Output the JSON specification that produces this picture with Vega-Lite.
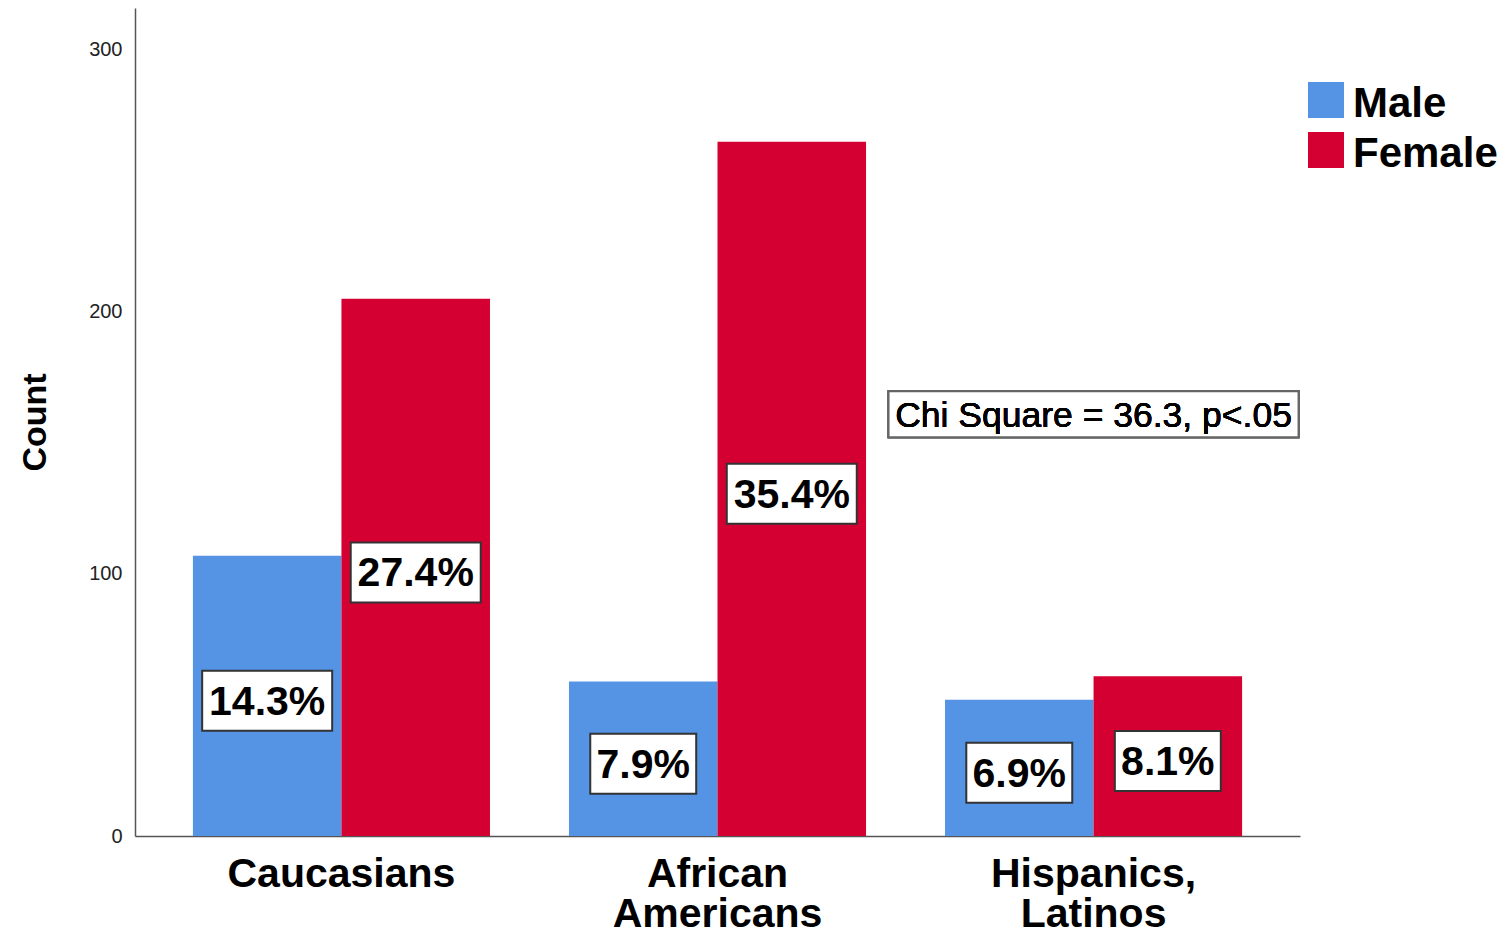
{
  "$schema": "https://vega.github.io/schema/vega-lite/v6.json",
  "width": 1165,
  "height": 828,
  "autosize": {"type": "none"},
  "padding": {"left": 135, "top": 8, "right": 203, "bottom": 99},
  "background": "white",
  "title": {
    "text": "Ethnicity Distribution by Gender",
    "font": "Liberation Sans",
    "fontSize": 41,
    "fontWeight": "bold",
    "color": "black",
    "anchor": "middle",
    "baseline": "alphabetic",
    "offset": 2,
    "dx": 58
  },
  "config": {
    "view": {"stroke": null},
    "font": "Liberation Sans"
  },
  "data": {
    "values": [
      {"ethnicity": "Caucasians", "gender": "Male", "count": 107, "pct": "14.3%"},
      {"ethnicity": "Caucasians", "gender": "Female", "count": 205, "pct": "27.4%"},
      {"ethnicity": "African Americans", "gender": "Male", "count": 59, "pct": "7.9%"},
      {"ethnicity": "African Americans", "gender": "Female", "count": 265, "pct": "35.4%"},
      {"ethnicity": "Hispanics, Latinos", "gender": "Male", "count": 52, "pct": "6.9%"},
      {"ethnicity": "Hispanics, Latinos", "gender": "Female", "count": 61, "pct": "8.1%"}
    ]
  },
  "encoding": {
    "x": {
      "field": "ethnicity",
      "type": "nominal",
      "sort": ["Caucasians", "African Americans", "Hispanics, Latinos"],
      "scale": {"paddingInner": 0.21, "paddingOuter": 0.154},
      "axis": {
        "title": null,
        "labelAngle": 0,
        "labelFont": "Liberation Sans",
        "labelFontSize": 41,
        "labelFontWeight": "bold",
        "labelColor": "black",
        "labelLineHeight": 40,
        "labelPadding": 18,
        "labelLimit": 0,
        "labelOverlap": false,
        "labelExpr": "datum.value == 'African Americans' ? ['African', 'Americans'] : datum.value == 'Hispanics, Latinos' ? ['Hispanics,', 'Latinos'] : datum.value",
        "ticks": false,
        "domainColor": "#555555",
        "domainWidth": 1.5,
        "grid": false
      }
    },
    "xOffset": {
      "field": "gender",
      "type": "nominal",
      "sort": ["Male", "Female"]
    }
  },
  "layer": [
    {
      "mark": {"type": "bar"},
      "encoding": {
        "y": {
          "field": "count",
          "type": "quantitative",
          "scale": {"domain": [0, 316], "nice": false},
          "axis": {
            "title": "Count",
            "titleFont": "Liberation Sans",
            "titleFontSize": 34,
            "titleFontWeight": "bold",
            "titleColor": "black",
            "titlePadding": 36,
            "values": [0, 100, 200, 300],
            "labelFont": "Liberation Sans",
            "labelFontSize": 20,
            "labelColor": "#222222",
            "labelPadding": 13,
            "ticks": false,
            "grid": false,
            "domainColor": "#555555",
            "domainWidth": 1.5
          }
        },
        "color": {
          "field": "gender",
          "type": "nominal",
          "scale": {"domain": ["Male", "Female"], "range": ["#5594e4", "#d50032"]},
          "legend": {
            "title": null,
            "orient": "none",
            "legendX": 1170,
            "legendY": 71,
            "padding": 0,
            "symbolType": "square",
            "symbolSize": 1296,
            "symbolStrokeWidth": 0,
            "symbolOpacity": 1,
            "labelFont": "Liberation Sans",
            "labelFontSize": 42,
            "labelFontWeight": "bold",
            "labelColor": "black",
            "labelOffset": 6,
            "rowPadding": 4,
            "encode": {"labels": {"update": {"dy": {"value": 4}}}}
          }
        }
      }
    },
    {
      "mark": {"type": "point", "filled": true, "fill": "white", "stroke": "#333333", "strokeWidth": 2, "opacity": 1, "size": 16900},
      "encoding": {
        "y": {
          "field": "count",
          "type": "quantitative",
          "scale": {"domain": [3.8, 635.8], "nice": false, "zero": false},
          "axis": null
        },
        "shape": {
          "field": "pct",
          "type": "nominal",
          "scale": {
            "domain": ["14.3%", "27.4%", "35.4%", "7.9%", "6.9%", "8.1%"],
            "range": [
              "M-1,-0.4615L1,-0.4615L1,0.4615L-1,0.4615Z",
              "M-1,-0.4615L1,-0.4615L1,0.4615L-1,0.4615Z",
              "M-1,-0.4615L1,-0.4615L1,0.4615L-1,0.4615Z",
              "M-0.815,-0.4615L0.815,-0.4615L0.815,0.4615L-0.815,0.4615Z",
              "M-0.815,-0.4615L0.815,-0.4615L0.815,0.4615L-0.815,0.4615Z",
              "M-0.815,-0.4615L0.815,-0.4615L0.815,0.4615L-0.815,0.4615Z"
            ]
          },
          "legend": null
        }
      }
    },
    {
      "mark": {"type": "text", "font": "Liberation Sans", "fontSize": 41, "fontWeight": "bold", "color": "black", "baseline": "middle", "align": "center", "dy": 2},
      "encoding": {
        "y": {
          "field": "count",
          "type": "quantitative",
          "scale": {"domain": [3.8, 635.8], "nice": false, "zero": false},
          "axis": null
        },
        "text": {"field": "pct"}
      }
    },
    {
      "mark": {"type": "point", "filled": true, "fill": "white", "stroke": "#666666", "strokeWidth": 2, "opacity": 1, "size": 168100, "shape": "M-1,-0.1122L1,-0.1122L1,0.1122L-1,0.1122Z"},
      "encoding": {
        "x": {"datum": "Hispanics, Latinos", "type": "nominal"},
        "xOffset": null,
        "y": {"datum": 161, "type": "quantitative", "scale": {"domain": [0, 316], "nice": false}, "axis": null}
      }
    },
    {
      "mark": {"type": "text", "font": "Liberation Sans", "fontSize": 35.5, "color": "black", "baseline": "middle", "align": "center", "dy": 2},
      "encoding": {
        "x": {"datum": "Hispanics, Latinos", "type": "nominal"},
        "xOffset": null,
        "y": {"datum": 161, "type": "quantitative", "scale": {"domain": [0, 316], "nice": false}, "axis": null},
        "text": {"value": "Chi Square = 36.3, p<.05"}
      }
    }
  ],
  "resolve": {"scale": {"y": "independent"}}
}
